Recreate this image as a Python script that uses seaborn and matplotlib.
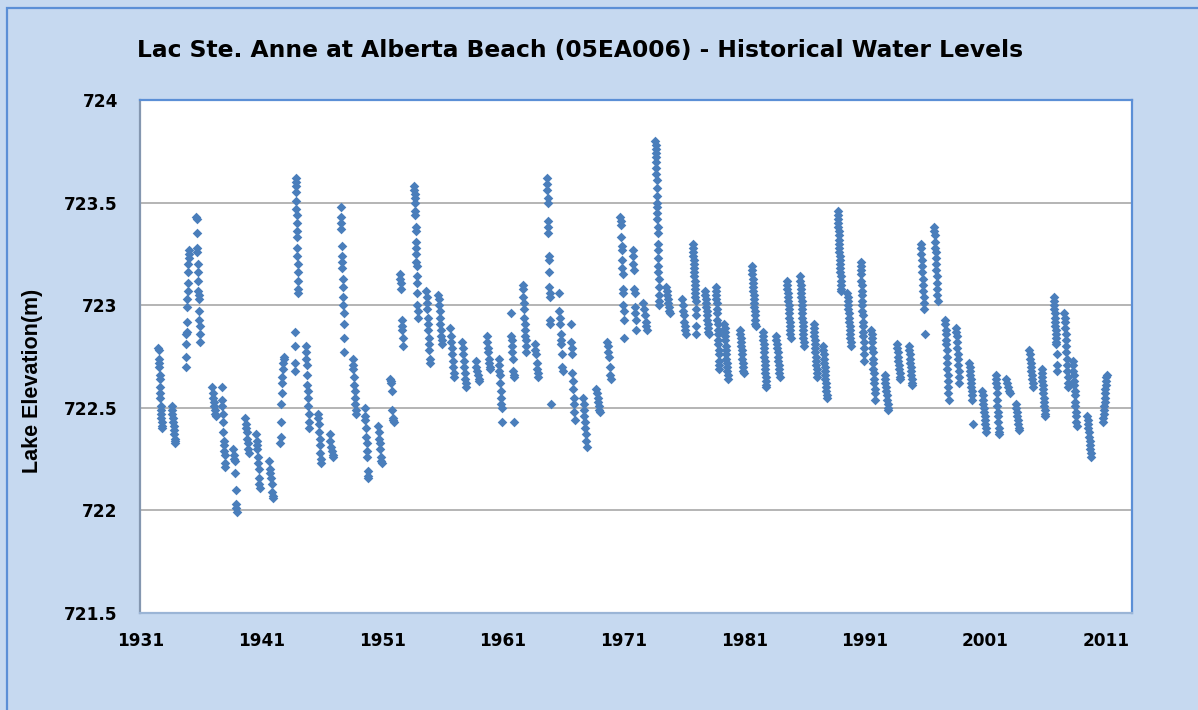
import numpy as np
import pandas as pd
import matplotlib
matplotlib.use('Agg')
import matplotlib.pyplot as plt
import seaborn as sns
from matplotlib.patches import Rectangle

# ----------------------------------------------------------------------
# Data: start of each open-water season (decimal year) and the lake
# levels (m) read through that season, grouped by decade
# ----------------------------------------------------------------------

starts_1930s = [1932.45, 1933.55, 1934.7, 1935.6, 1936.9, 1937.7, 1938.65, 1939.65, 1940.55]
levels_1930s = [
    [722.79, 722.78, 722.74, 722.72, 722.70, 722.66, 722.64, 722.60, 722.57, 722.55, 722.51, 722.49, 722.47, 722.45, 722.43, 722.41, 722.40],
    [722.51, 722.49, 722.47, 722.45, 722.43, 722.41, 722.39, 722.37, 722.35, 722.34, 722.33],
    [722.70, 722.75, 722.81, 722.86, 722.87, 722.92, 722.99, 723.03, 723.07, 723.11, 723.16, 723.20, 723.23, 723.25, 723.27],
    [723.43, 723.42, 723.35, 723.28, 723.26, 723.20, 723.16, 723.12, 723.07, 723.05, 723.03, 722.97, 722.93, 722.90, 722.86, 722.82],
    [722.60, 722.57, 722.55, 722.53, 722.51, 722.49, 722.47, 722.46],
    [722.60, 722.54, 722.51, 722.47, 722.43, 722.38, 722.34, 722.32, 722.29, 722.27, 722.23, 722.21],
    [722.30, 722.27, 722.25, 722.24, 722.18, 722.10, 722.03, 722.01, 721.99],
    [722.45, 722.42, 722.40, 722.38, 722.35, 722.33, 722.30, 722.28],
    [722.37, 722.34, 722.32, 722.30, 722.26, 722.23, 722.20, 722.16, 722.13, 722.11],
]

starts_1940s = [1941.65, 1942.55, 1943.75, 1944.65, 1945.65, 1946.65, 1947.55, 1948.55, 1949.55, 1950.65]
levels_1940s = [
    [722.24, 722.20, 722.18, 722.16, 722.13, 722.09, 722.07, 722.06],
    [722.33, 722.36, 722.43, 722.52, 722.57, 722.62, 722.65, 722.69, 722.72, 722.75, 722.74],
    [722.68, 722.72, 722.80, 722.87, 723.62, 723.60, 723.58, 723.55, 723.51, 723.47, 723.44, 723.40, 723.36, 723.33, 723.28, 723.24, 723.20, 723.16, 723.12, 723.08, 723.06],
    [722.80, 722.77, 722.74, 722.71, 722.66, 722.61, 722.58, 722.55, 722.51, 722.47, 722.43, 722.40],
    [722.47, 722.45, 722.42, 722.38, 722.35, 722.32, 722.28, 722.25, 722.23],
    [722.37, 722.34, 722.31, 722.29, 722.27, 722.26],
    [723.48, 723.43, 723.40, 723.37, 723.29, 723.24, 723.21, 723.18, 723.13, 723.09, 723.04, 723.00, 722.96, 722.91, 722.84, 722.77],
    [722.74, 722.71, 722.69, 722.65, 722.61, 722.58, 722.55, 722.52, 722.49, 722.47],
    [722.50, 722.46, 722.44, 722.40, 722.36, 722.33, 722.29, 722.26, 722.19, 722.17, 722.16],
    [722.41, 722.38, 722.35, 722.33, 722.30, 722.26, 722.24, 722.23],
]

starts_1950s = [1951.65, 1952.45, 1953.65, 1954.65, 1955.65, 1956.65, 1957.65, 1958.75, 1959.65, 1960.65]
levels_1950s = [
    [722.64, 722.63, 722.62, 722.58, 722.49, 722.45, 722.44, 722.43],
    [723.15, 723.13, 723.11, 723.08, 722.93, 722.90, 722.88, 722.84, 722.80],
    [723.58, 723.56, 723.54, 723.52, 723.50, 723.46, 723.44, 723.38, 723.36, 723.31, 723.28, 723.25, 723.21, 723.19, 723.14, 723.11, 723.06, 723.00, 722.97, 722.94],
    [723.07, 723.04, 723.01, 722.98, 722.94, 722.91, 722.88, 722.84, 722.81, 722.78, 722.74, 722.72],
    [723.05, 723.03, 723.00, 722.97, 722.94, 722.91, 722.88, 722.85, 722.83, 722.81],
    [722.89, 722.85, 722.82, 722.79, 722.76, 722.73, 722.70, 722.67, 722.65],
    [722.82, 722.79, 722.76, 722.73, 722.70, 722.67, 722.64, 722.62, 722.60],
    [722.73, 722.70, 722.68, 722.66, 722.64, 722.63],
    [722.85, 722.82, 722.79, 722.77, 722.74, 722.72, 722.70, 722.69],
    [722.74, 722.71, 722.68, 722.66, 722.62, 722.58, 722.55, 722.52, 722.50, 722.43],
]

starts_1960s = [1961.65, 1962.65, 1963.65, 1964.65, 1965.65, 1966.65, 1967.65, 1968.75, 1969.65, 1970.75]
levels_1960s = [
    [722.96, 722.85, 722.83, 722.80, 722.77, 722.74, 722.68, 722.66, 722.65, 722.43],
    [723.10, 723.08, 723.04, 723.01, 722.98, 722.94, 722.91, 722.88, 722.85, 722.83, 722.80, 722.77],
    [722.81, 722.78, 722.76, 722.72, 722.69, 722.67, 722.65],
    [723.62, 723.59, 723.56, 723.52, 723.50, 723.41, 723.38, 723.35, 723.24, 723.22, 723.16, 723.09, 723.06, 723.04, 722.93, 722.91, 722.52],
    [723.06, 722.97, 722.94, 722.91, 722.86, 722.83, 722.81, 722.76, 722.70, 722.68],
    [722.91, 722.82, 722.79, 722.76, 722.67, 722.63, 722.59, 722.55, 722.52, 722.48, 722.44],
    [722.55, 722.52, 722.49, 722.46, 722.43, 722.40, 722.37, 722.34, 722.31],
    [722.59, 722.57, 722.55, 722.53, 722.51, 722.49, 722.48],
    [722.82, 722.80, 722.77, 722.75, 722.70, 722.66, 722.64],
    [723.43, 723.41, 723.39, 723.33, 723.29, 723.27, 723.22, 723.18, 723.15, 723.08, 723.06, 723.00, 722.97, 722.93, 722.84],
]

starts_1970s = [1971.75, 1972.65, 1973.65, 1974.55, 1975.85, 1976.75, 1977.75, 1978.65, 1979.35, 1980.65]
levels_1970s = [
    [723.27, 723.24, 723.20, 723.17, 723.08, 723.06, 722.99, 722.96, 722.93, 722.88],
    [723.01, 722.98, 722.95, 722.92, 722.90, 722.88],
    [723.80, 723.78, 723.76, 723.74, 723.72, 723.70, 723.67, 723.64, 723.61, 723.57, 723.53, 723.50, 723.48, 723.45, 723.42, 723.38, 723.35, 723.30, 723.27, 723.23, 723.19, 723.16, 723.13, 723.09, 723.05, 723.02, 723.00],
    [723.09, 723.07, 723.05, 723.03, 723.01, 722.99, 722.97, 722.96],
    [723.03, 723.00, 722.97, 722.95, 722.92, 722.90, 722.88, 722.86],
    [723.30, 723.28, 723.26, 723.24, 723.22, 723.20, 723.18, 723.16, 723.14, 723.12, 723.10, 723.08, 723.06, 723.04, 723.02, 722.98, 722.95, 722.90, 722.86],
    [723.07, 723.05, 723.03, 723.01, 722.99, 722.97, 722.95, 722.93, 722.91, 722.89, 722.87, 722.86],
    [723.09, 723.07, 723.05, 723.03, 723.01, 722.98, 722.96, 722.93, 722.91, 722.88, 722.86, 722.83, 722.81, 722.78, 722.76, 722.73, 722.71, 722.69],
    [722.91, 722.89, 722.87, 722.85, 722.83, 722.80, 722.78, 722.76, 722.74, 722.72, 722.70, 722.68, 722.66, 722.64],
    [722.88, 722.86, 722.84, 722.82, 722.80, 722.78, 722.76, 722.74, 722.72, 722.70, 722.68, 722.67],
]

starts_1980s = [1981.65, 1982.55, 1983.65, 1984.55, 1985.65, 1986.75, 1987.55, 1988.75, 1989.55, 1990.65]
levels_1980s = [
    [723.19, 723.17, 723.15, 723.13, 723.11, 723.09, 723.07, 723.05, 723.03, 723.01, 722.99, 722.97, 722.95, 722.93, 722.91, 722.90],
    [722.87, 722.85, 722.83, 722.81, 722.79, 722.77, 722.75, 722.73, 722.71, 722.69, 722.67, 722.65, 722.63, 722.61, 722.60],
    [722.85, 722.83, 722.81, 722.79, 722.77, 722.75, 722.73, 722.71, 722.69, 722.67, 722.65],
    [723.12, 723.10, 723.08, 723.06, 723.04, 723.02, 723.00, 722.98, 722.96, 722.94, 722.92, 722.90, 722.88, 722.86, 722.84],
    [723.14, 723.12, 723.10, 723.08, 723.06, 723.04, 723.02, 723.00, 722.98, 722.96, 722.94, 722.92, 722.90, 722.88, 722.86, 722.84, 722.82, 722.80],
    [722.91, 722.89, 722.87, 722.85, 722.83, 722.81, 722.79, 722.77, 722.75, 722.73, 722.71, 722.69, 722.67, 722.65],
    [722.80, 722.78, 722.76, 722.74, 722.72, 722.70, 722.68, 722.66, 722.64, 722.62, 722.60, 722.58, 722.56, 722.55],
    [723.46, 723.44, 723.42, 723.40, 723.38, 723.36, 723.34, 723.32, 723.30, 723.28, 723.26, 723.24, 723.22, 723.20, 723.18, 723.16, 723.14, 723.12, 723.10, 723.08, 723.07],
    [723.06, 723.04, 723.02, 723.00, 722.98, 722.96, 722.94, 722.92, 722.90, 722.88, 722.86, 722.84, 722.82, 722.80],
    [723.21, 723.19, 723.17, 723.15, 723.12, 723.10, 723.07, 723.05, 723.02, 723.00, 722.97, 722.95, 722.92, 722.90, 722.87, 722.85, 722.82, 722.79, 722.76, 722.73],
]

starts_1990s = [1991.55, 1992.65, 1993.65, 1994.65, 1995.65, 1996.75, 1997.65, 1998.55, 1999.65, 2000.75]
levels_1990s = [
    [722.88, 722.86, 722.84, 722.82, 722.79, 722.77, 722.74, 722.72, 722.69, 722.67, 722.64, 722.62, 722.59, 722.57, 722.54],
    [722.66, 722.64, 722.62, 722.60, 722.58, 722.56, 722.54, 722.52, 722.50, 722.49],
    [722.81, 722.79, 722.77, 722.75, 722.73, 722.71, 722.69, 722.67, 722.65, 722.64],
    [722.80, 722.78, 722.76, 722.74, 722.72, 722.70, 722.68, 722.66, 722.64, 722.62, 722.61],
    [723.30, 723.28, 723.25, 723.22, 723.19, 723.16, 723.13, 723.10, 723.07, 723.04, 723.01, 722.98, 722.86],
    [723.38, 723.36, 723.34, 723.31, 723.28, 723.26, 723.23, 723.20, 723.17, 723.14, 723.11, 723.08, 723.05, 723.02],
    [722.93, 722.91, 722.88, 722.86, 722.83, 722.81, 722.78, 722.75, 722.72, 722.69, 722.66, 722.63, 722.60, 722.57, 722.54],
    [722.89, 722.87, 722.85, 722.82, 722.79, 722.76, 722.74, 722.71, 722.68, 722.65, 722.62],
    [722.72, 722.70, 722.68, 722.66, 722.64, 722.62, 722.60, 722.58, 722.56, 722.54, 722.42],
    [722.58, 722.56, 722.54, 722.52, 722.50, 722.48, 722.46, 722.44, 722.42, 722.40, 722.38],
]

starts_2000s = [2001.85, 2002.7, 2003.5, 2004.65, 2005.65, 2006.65, 2007.55, 2008.25, 2009.45, 2010.75]
levels_2000s = [
    [722.66, 722.64, 722.62, 722.60, 722.57, 722.54, 722.51, 722.48, 722.46, 722.43, 722.40, 722.38, 722.37],
    [722.64, 722.62, 722.60, 722.58, 722.57],
    [722.52, 722.50, 722.48, 722.46, 722.44, 722.42, 722.40, 722.39],
    [722.78, 722.76, 722.74, 722.72, 722.70, 722.68, 722.66, 722.64, 722.62, 722.60],
    [722.69, 722.67, 722.65, 722.63, 722.61, 722.59, 722.57, 722.55, 722.53, 722.51, 722.49, 722.47, 722.46],
    [723.04, 723.02, 723.00, 722.98, 722.96, 722.94, 722.92, 722.90, 722.88, 722.86, 722.84, 722.82, 722.81, 722.76, 722.71, 722.68],
    [722.96, 722.94, 722.92, 722.89, 722.86, 722.83, 722.80, 722.77, 722.74, 722.71, 722.68, 722.65, 722.62, 722.60],
    [722.73, 722.71, 722.68, 722.66, 722.63, 722.61, 722.58, 722.56, 722.53, 722.51, 722.48, 722.46, 722.43, 722.41],
    [722.46, 722.44, 722.42, 722.40, 722.38, 722.36, 722.34, 722.32, 722.30, 722.28, 722.26],
    [722.43, 722.45, 722.47, 722.49, 722.51, 722.53, 722.55, 722.57, 722.59, 722.61, 722.63, 722.65, 722.66],
]

year_ticks = [1931, 1941, 1951, 1961, 1971, 1981, 1991, 2001, 2011]
level_ticks = [721.5, 722, 722.5, 723, 723.5, 724]

title = "Lac Ste. Anne at Alberta Beach (05EA006) - Historical Water Levels"
ylabel = "Lake Elevation(m)"

# readings spread over roughly four months of each season
season_span = 0.3

# ----------------------------------------------------------------------
# Build one long table of readings
# ----------------------------------------------------------------------

starts = starts_1930s + starts_1940s + starts_1950s + starts_1960s + starts_1970s + starts_1980s + starts_1990s + starts_2000s
levels = levels_1930s + levels_1940s + levels_1950s + levels_1960s + levels_1970s + levels_1980s + levels_1990s + levels_2000s

rows = []
for start, season in zip(starts, levels):
    n = len(season)
    for i, lv in enumerate(season):
        rows.append((start + season_span * i / max(n - 1, 1), lv))

df = pd.DataFrame(rows, columns=['year', 'level'])

# ----------------------------------------------------------------------
# Figure
# ----------------------------------------------------------------------

sns.set_style('white')
plt.rcParams['font.family'] = ['DejaVu Sans']
plt.rcParams['text.color'] = 'black'

W, H = 1198, 710
bg = '#c6d9f0'
blue_line = '#5b8fd6'

fig = plt.figure(figsize=(W / 100, H / 100), dpi=100)
fig.patch.set_facecolor(bg)

# outer chart border (runs off the right and bottom edge like the original)
fig.patches.append(Rectangle((7 / W, -0.1), 1.2, 1 - 8 / H + 0.1,
                             transform=fig.transFigure, fill=False,
                             edgecolor=blue_line, linewidth=1.6))

ax = fig.add_axes([140 / W, 1 - 613 / H, (1132 - 140) / W, (613 - 100) / H])
ax.set_facecolor('white')

sns.scatterplot(
    data=df,
    x='year',
    y='level',
    marker='D',
    s=24,
    color='#4a7ebb',
    linewidth=0,
    ax=ax,
    legend=False,
    zorder=3
)

ax.set_xlim(1930.92, 2013.15)
ax.set_ylim(721.5, 724)

ax.set_xticks(year_ticks)
ax.set_xticklabels([str(y) for y in year_ticks], fontweight='bold')
ax.set_yticks(level_ticks)
ax.set_yticklabels([f'{v:g}' for v in level_ticks], fontweight='bold')

ax.tick_params(axis='both', which='major', direction='out', length=5,
               width=1.0, color='#a0a0a0', labelcolor='black', labelsize=12.2)
ax.tick_params(axis='x', pad=9)
ax.tick_params(axis='y', pad=11)

ax.yaxis.grid(True, color='#a0a0a0', linewidth=1.1)
ax.xaxis.grid(False)
ax.set_axisbelow(True)

ax.set_xlabel('')
ax.set_ylabel('')

for side in ['top', 'right']:
    ax.spines[side].set_color(blue_line)
    ax.spines[side].set_linewidth(1.6)
ax.spines['left'].set_color('#8497b0')
ax.spines['left'].set_linewidth(1.6)
ax.spines['bottom'].set_color('#9bb5d6')
ax.spines['bottom'].set_linewidth(1.6)

fig.text(580 / W, 1 - 57 / H, title, ha='center', va='baseline',
         fontsize=16.8, fontweight='bold', color='black')

fig.text(33 / W, 1 - 381 / H, ylabel, rotation=90, ha='center', va='center',
         fontsize=15.5, fontweight='bold', color='black',
         family=['Liberation Sans', 'DejaVu Sans'])

fig.savefig('out.png', dpi=100, facecolor=fig.get_facecolor())
